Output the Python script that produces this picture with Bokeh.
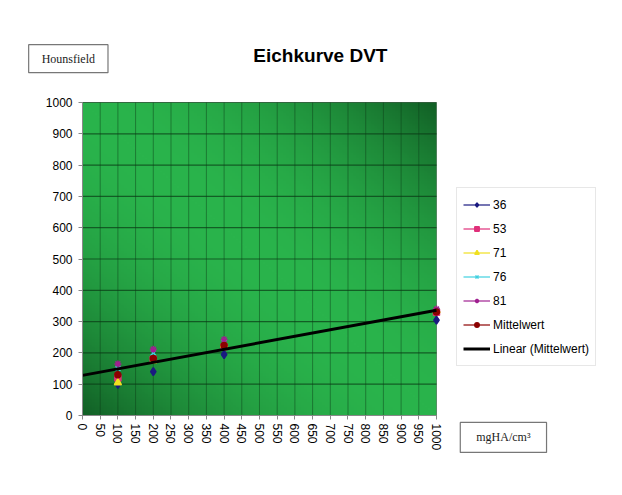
import numpy as np
from bokeh.plotting import figure
from bokeh.models import (Range1d, Label, Legend, LegendItem, FixedTicker,
                          ColumnDataSource)
from bokeh.embed import file_html
from bokeh.resources import INLINE

# ---- data ----
x_vals = [100, 200, 400, 1000]
s36 = [100, 140, 195, 305]
s53 = [120, 180, 220, 330]
s71 = [105, 175, 225, 335]
s76 = [150, 200, 235, 335]
s81 = [165, 212, 243, 340]
mittelwert = [130, 182, 224, 331]
x_ticks = list(range(0, 1001, 50))
y_ticks = list(range(0, 1001, 100))

FONT = "Liberation Sans"
SERIF = "Liberation Serif"

# the frame covers the whole canvas; axes sit at fixed data locations
p = figure(width=606, height=478, output_backend="svg", toolbar_location=None,
           x_range=Range1d(-231.6, 1480.2), y_range=Range1d(-201.2, 1325.9),
           min_border=0)
p.outline_line_color = None
p.background_fill_color = "white"
p.border_fill_color = "white"
p.grid.visible = False

# gradient plot-area background (style only)
n = 120
u, v = np.meshgrid(np.linspace(0, 1, n), np.linspace(0, 1, n))
d = np.abs(u + v - 1.0) ** 2.0
light = np.array([42, 180, 76])
dark = np.array([18, 96, 38])
img = np.zeros((n, n), dtype=np.uint32)
view = img.view(dtype=np.uint8).reshape((n, n, 4))
for c in range(3):
    view[:, :, c] = (light[c] * (1 - d) + dark[c] * d).astype(np.uint8)
view[:, :, 3] = 255
p.image_rgba(image=[img], x=x_ticks[0], y=y_ticks[0],
             dw=x_ticks[-1] - x_ticks[0], dh=y_ticks[-1] - y_ticks[0], level="image")

# grid lines restricted to the plot area
p.segment(x0=x_ticks, x1=x_ticks, y0=[y_ticks[0]] * len(x_ticks), y1=[y_ticks[-1]] * len(x_ticks),
          line_color="#0a3a16", line_alpha=0.45, line_width=1, level="underlay")
p.segment(x0=[x_ticks[0]] * len(y_ticks), x1=[x_ticks[-1]] * len(y_ticks), y0=y_ticks, y1=y_ticks,
          line_color="#0a3a16", line_alpha=0.7, line_width=1.2, level="underlay")

# axes
p.xaxis.fixed_location = 0
p.yaxis.fixed_location = 0
p.xaxis.bounds = (x_ticks[0], x_ticks[-1])
p.yaxis.bounds = (y_ticks[0], y_ticks[-1])
p.xaxis.ticker = FixedTicker(ticks=x_ticks)
p.yaxis.ticker = FixedTicker(ticks=y_ticks)
p.xaxis.major_label_orientation = -np.pi / 2
for ax in (p.xaxis[0], p.yaxis[0]):
    ax.major_label_text_font = FONT
    ax.major_label_text_font_size = "12px"
    ax.major_label_text_color = "black"
    ax.axis_line_color = "#888888"
    ax.major_tick_line_color = "#888888"
    ax.major_tick_in = 0
    ax.major_tick_out = 4
    ax.minor_tick_line_color = None
p.yaxis.major_label_standoff = 6
p.xaxis.major_label_standoff = 4

# series
specs = [
    ("36", s36, "diamond", "#1a1a80", 8),
    ("53", s53, "square", "#e0307a", 6),
    ("71", s71, "triangle", "#f0e020", 7),
    ("76", s76, "x", "#40d0e0", 7),
    ("81", s81, "asterisk", "#a02090", 7),
    ("Mittelwert", mittelwert, "circle", "#8b0000", 6),
]
items = []
for label, ys, marker, color, size in specs:
    # legend-only line sample (Excel legend shows line + marker)
    ln = p.line(x="x", y="y", source=ColumnDataSource(dict(x=[np.nan], y=[np.nan])),
                line_color=color, line_width=1.2)
    sc = p.scatter(x=x_vals, y=ys, marker=marker, size=size,
                   fill_color=color, line_color=color, line_width=1.5)
    items.append(LegendItem(label=label, renderers=[ln, sc]))

# linear trendline of Mittelwert
slope, intercept = np.polyfit(x_vals, mittelwert, 1)
tx = [x_ticks[0], x_ticks[-1]]
ty = [intercept + slope * t for t in tx]
tl = p.line(x=tx, y=ty, line_color="black", line_width=3)
items.append(LegendItem(label="Linear (Mittelwert)", renderers=[tl]))

legend = Legend(items=items, location=(456, 112))
legend.label_text_font = FONT
legend.label_text_font_size = "12px"
legend.label_text_color = "black"
legend.label_height = 21
legend.glyph_height = 11
legend.glyph_width = 27
legend.spacing = 3
legend.padding = 6
legend.margin = 0
legend.label_standoff = 3
legend.border_line_color = "#d0d0d0"
legend.background_fill_color = "white"
legend.background_fill_alpha = 1
p.add_layout(legend, "center")

# title and axis name boxes
p.add_layout(Label(x=672, y=1150, text="Eichkurve DVT", text_font=FONT,
                   text_font_size="19px", text_font_style="bold", text_color="black",
                   text_align="center", text_baseline="middle"))
p.add_layout(Label(x=-40, y=1140,
                   text="Hounsfield", text_font=SERIF, text_font_size="12px",
                   text_align="center", text_baseline="middle", text_color="#222222",
                   border_line_color="#777777", border_line_width=1.2,
                   background_fill_color="white", padding=(13, 7)))
p.add_layout(Label(x=1189, y=-70,
                   text="mgHA/cm³", text_font=SERIF, text_font_size="12px",
                   text_align="center", text_baseline="middle", text_color="#222222",
                   border_line_color="#777777", border_line_width=1.2,
                   background_fill_color="white", padding=(16, 8)))

open("out.html", "w").write(file_html(p, INLINE))
